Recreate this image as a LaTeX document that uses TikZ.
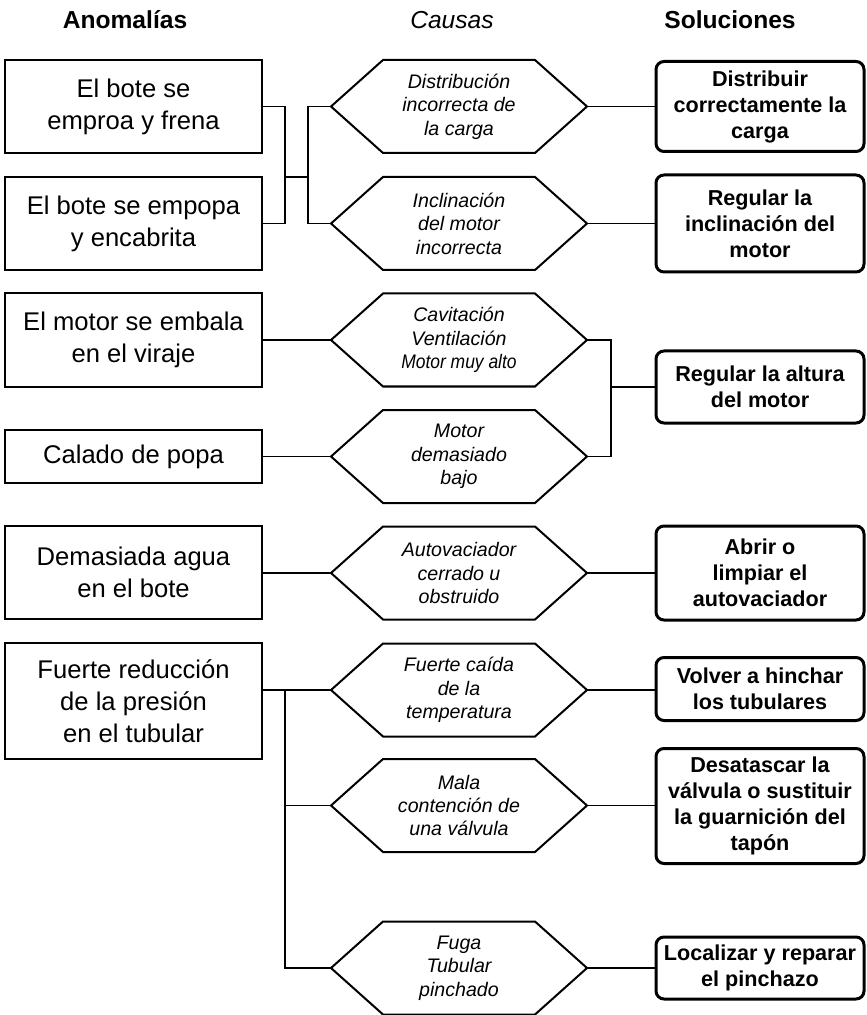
\documentclass[tikz,border=0pt]{standalone}
\usepackage{fontspec}
\setmainfont{Liberation Sans}
\usepackage{graphicx}
\usepackage{tikz}
\usetikzlibrary{calc}

% contorno hexagonal de una causa (el nodo mismo no se dibuja)
\newcommand{\hexcontorno}[1]{%
  \draw[hexlinea] (#1.west) -- ([xshift=26pt]#1.north west) -- ([xshift=-26pt]#1.north east)
    -- (#1.east) -- ([xshift=-26pt]#1.south east) -- ([xshift=26pt]#1.south west) -- cycle;}

\begin{document}
\begin{tikzpicture}[x=0.5pt, y=-0.5pt, line join=miter]

\tikzset{
    anomalia/.style={rectangle, draw, line width=1pt, minimum width=128.5pt, minimum height=#1,
                     inner sep=0pt, outer sep=0pt, align=center, font=\fontsize{12.8}{16}\selectfont},
    causa/.style={rectangle, minimum width=128pt, minimum height=46.5pt, inner sep=0pt, outer sep=0pt,
                  align=center, font=\fontsize{9.8}{11.7}\selectfont\itshape},
    hexlinea/.style={line width=1pt},
    solucion/.style={rectangle, draw, line width=1.5pt, rounded corners=4pt, minimum width=104pt,
                     minimum height=#1, inner sep=0pt, outer sep=0pt, align=center,
                     font=\fontsize{10.8}{13}\selectfont\bfseries},
    titulo/.style={anchor=base, font=\fontsize{12.3}{14}\selectfont},
    linea/.style={line width=0.8pt}
}

\useasboundingbox (0,0) rectangle (866,1015);

% ── títulos ──
\node[titulo, font=\fontsize{12.3}{14}\selectfont\bfseries] (T1) at (125,28.5) {Anomalías};
\node[titulo, font=\fontsize{12.3}{14}\selectfont\itshape]  (T2) at (452,28.5) {Causas};
\node[titulo, font=\fontsize{12.3}{14}\selectfont\bfseries] (T3) at (730,28.5) {Soluciones};

% ── anomalías ──
\node[anomalia=46.5pt] (A1) at (133.5,106.5) {El bote se\\emproa y frena};
\node[anomalia=46.5pt] (A2) at (133.5,223.5) {El bote se empopa\\y encabrita};
\node[anomalia=47pt]   (A3) at (133.5,340)   {El motor se embala\\en el viraje};
\node[anomalia=26.5pt] (A4) at (133.5,456.5) {Calado de popa};
\node[anomalia=46.5pt] (A5) at (133.5,572.5) {Demasiada agua\\en el bote};
\node[anomalia=58pt]   (A6) at (133.5,701)   {Fuerte reducción\\de la presión\\en el tubular};

% ── causas ──
\node[causa] (C1) at (459,106.5) {Distribución\\incorrecta de\\la carga};
\node[causa] (C2) at (459,223.5) {Inclinación\\del motor\\incorrecta};
\node[causa] (C3) at (459,340)   {Cavitación\\Ventilación\\\scalebox{0.89}[1]{Motor muy alto}};
\node[causa] (C4) at (459,456.5) {Motor\\demasiado\\bajo};
\node[causa] (C5) at (459,573)   {Autovaciador\\cerrado u\\obstruido};
\node[causa] (C6) at (459,690)   {Fuerte caída\\de la\\temperatura};
\node[causa] (C7) at (459,805.5) {Mala\\contención de\\una válvula};
\node[causa] (C8) at (459,968)   {Fuga\\Tubular\\pinchado};

\foreach \c in {C1,C2,C3,C4,C5,C6,C7,C8}{
    \hexcontorno{\c}
}

% ── soluciones ──
\node[solucion=45pt]   (S1) at (760,106.5) {Distribuir\\correctamente la\\carga};
\node[solucion=48.5pt] (S2) at (760,223.5) {Regular la\\inclinación del\\motor};
\node[solucion=36pt]   (S3) at (760,387)   {Regular la altura\\del motor};
\node[solucion=47pt]   (S4) at (760,573)   {Abrir o\\limpiar el\\autovaciador};
\node[solucion=31.5pt] (S5) at (760,689)   {Volver a hinchar\\los tubulares};
\node[solucion=57.5pt] (S6) at (760,806)   {Desatascar la\\válvula o sustituir\\la guarnición del\\tapón};
\node[solucion=31pt]   (S7) at (760,968)   {Localizar y reparar\\el pinchazo};

% ── conexiones ──
\coordinate (j1) at (285,177);
\coordinate (j2) at (308,177);
\coordinate (j3) at (611,387);
\coordinate (j4) at (285,690);

\draw[linea] (A1.east) -| (j1) |- (A2.east);
\draw[linea] (j1) -- (j2);
\draw[linea] (C1.west) -| (j2) |- (C2.west);
\draw[linea] (C1.east) -- (S1.west);
\draw[linea] (C2.east) -- (S2.west);

\draw[linea] (A3.east) -- (C3.west);
\draw[linea] (A4.east) -- (C4.west);
\draw[linea] (C3.east) -| (j3) |- (C4.east);
\draw[linea] (j3) -- (S3.west);

\draw[linea] (A5.east |- C5.west) -- (C5.west);
\draw[linea] (C5.east) -- (S4.west);

\draw[linea] (A6.east |- C6.west) -- (C6.west);
\draw[linea] (j4) |- (C8.west);
\draw[linea] (j4 |- C7.west) -- (C7.west);
\draw[linea] (C6.east) -- (S5.west |- C6.east);
\draw[linea] (C7.east) -- (S6.west |- C7.east);
\draw[linea] (C8.east) -- (S7.west);

\end{tikzpicture}
\end{document}
